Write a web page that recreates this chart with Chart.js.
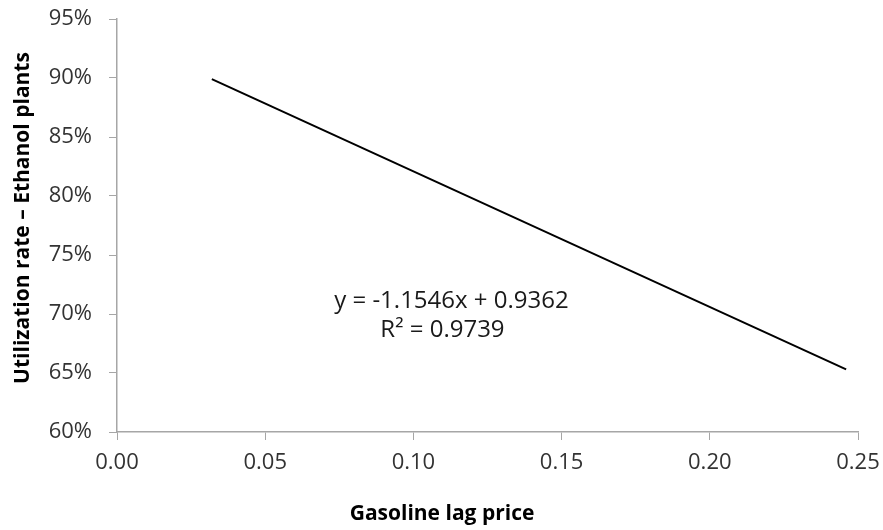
<!DOCTYPE html>
<html>
<head>
<meta charset="utf-8">
<script src="https://cdn.jsdelivr.net/npm/chart.js@4/dist/chart.umd.min.js"></script>
<style>
  html, body { margin: 0; padding: 0; background: #fff; }
  #wrap { width: 883px; height: 530px; }
</style>
</head>
<body>
<div id="wrap"><canvas id="c" width="883" height="530"></canvas></div>
<script>
// trend line endpoints
const lagPrice = [0.032, 0.246];
const utilization = [0.899, 0.653];
const xTicks = [0, 0.05, 0.10, 0.15, 0.20, 0.25];
const yTicks = [0.60, 0.65, 0.70, 0.75, 0.80, 0.85, 0.90, 0.95];
const eqLines = ['y = -1.1546x + 0.9362', 'R² = 0.9739'];
const xTitle = 'Gasoline lag price';
const yTitle = 'Utilization rate \u2013 Ethanol plants';

const font = "'Open Sans', sans-serif";
const axisGrey = '#a6a6a6';

// equation label + axis titles
const textPlugin = {
    id: 'texts',
    afterDraw(chart) {
        const ctx = chart.ctx;
        const xs = chart.scales.x, ys = chart.scales.y;
        ctx.save();
        ctx.fillStyle = '#1a1a1a';
        ctx.textAlign = 'center';
        ctx.textBaseline = 'middle';
        ctx.font = '24px ' + font;
        const ex = xs.getPixelForValue(0.1125);
        const ey = ys.getPixelForValue(0.711);
        ctx.fillText(eqLines[0], ex + 1, ey);
        ctx.fillText(eqLines[1], ex - 8, ey + 29);

        ctx.fillStyle = '#000';
        ctx.font = 'bold 21px ' + font;
        ctx.fillText(xTitle, 442, 514);
        ctx.translate(23, 218);
        ctx.rotate(-Math.PI / 2);
        ctx.fillText(yTitle, 0, 0);
        ctx.restore();
    }
};

new Chart(document.getElementById('c'), {
    type: 'scatter',
    data: {
        datasets: [{
            data: lagPrice.map((x, i) => ({ x: x, y: utilization[i] })),
            showLine: true,
            borderColor: '#000',
            borderWidth: 2,
            pointRadius: 0
        }]
    },
    options: {
        responsive: false,
        animation: false,
        layout: { padding: { top: 19, right: 25, left: 0, bottom: 0 } },
        plugins: { legend: { display: false }, tooltip: { enabled: false } },
        scales: {
            x: {
                type: 'linear',
                min: 0, max: 0.25,
                afterBuildTicks: (s) => { s.ticks = xTicks.map(v => ({ value: v })); },
                afterFit: (s) => { s.height = 98; s.paddingLeft = 0; s.paddingRight = 0; },
                grid: { drawOnChartArea: false, drawTicks: true, tickLength: 8, color: axisGrey },
                border: { color: axisGrey, width: 1.5 },
                ticks: {
                    color: '#333',
                    font: { family: font, size: 22 },
                    padding: 10,
                    maxRotation: 0,
                    callback: (v) => v.toFixed(2)
                }
            },
            y: {
                min: 0.60, max: 0.95,
                afterBuildTicks: (s) => { s.ticks = yTicks.map(v => ({ value: v })); },
                afterFit: (s) => { s.width = 117; s.paddingTop = 0; s.paddingBottom = 0; },
                grid: { drawOnChartArea: false, drawTicks: true, tickLength: 8, color: axisGrey },
                border: { color: axisGrey, width: 1.5 },
                ticks: {
                    color: '#333',
                    font: { family: font, size: 22 },
                    padding: 17,
                    callback: (v) => Math.round(v * 100) + '%'
                }
            }
        }
    },
    plugins: [textPlugin]
});
</script>
</body>
</html>
